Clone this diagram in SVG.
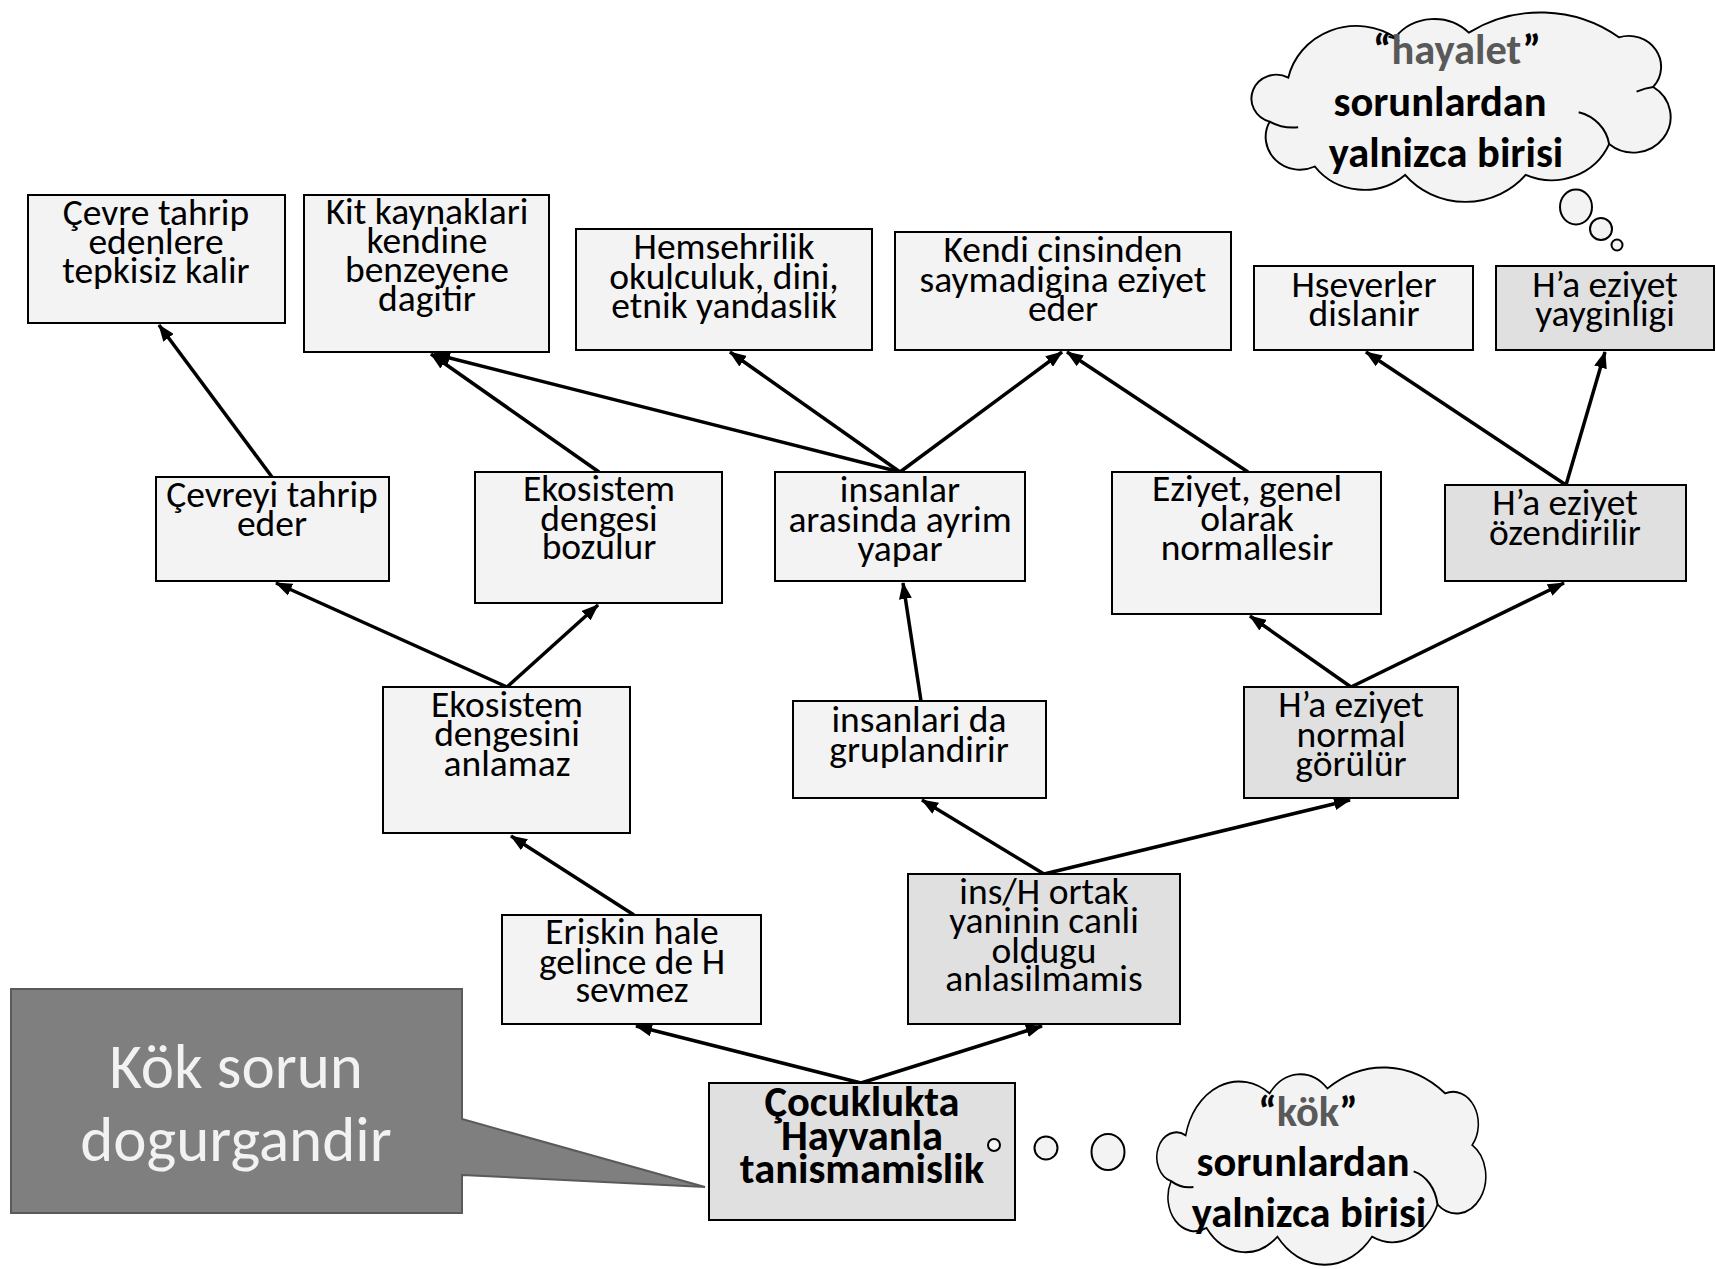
<svg xmlns="http://www.w3.org/2000/svg" width="1716" height="1269" viewBox="0 0 1716 1269">
<defs>
<marker id="ah" markerUnits="userSpaceOnUse" markerWidth="17" markerHeight="13" refX="16" refY="6.5" orient="auto"><path d="M0,0 L17,6.5 L0,13 Z" fill="#000"/></marker>
<path id="cloudShape" d="M1272,122 A25.5,25.5 0 1 1 1291,75 A71,71 0 0 1 1400,32 A50,50 0 0 1 1475,27 A134,134 0 0 1 1628,32 A33,33 0 0 1 1663,85 A38,38 0 1 1 1618,146 A64,64 0 0 1 1533,179 A80,80 0 0 1 1410,179 A63,63 0 0 1 1318,170 A35,35 0 0 1 1272,122 Z"/>
<style>
.box{fill:#f3f3f3;stroke:#000;stroke-width:2}
.dark{fill:#e0e0e0;stroke:#000;stroke-width:2}
.t{font-family:Carlito,Lato,'Liberation Sans',sans-serif;font-size:37.5px;text-anchor:middle;fill:#000}
.tb{font-family:Carlito,Lato,'Liberation Sans',sans-serif;font-size:42.5px;font-weight:bold;text-anchor:middle;fill:#000}
.ct{font-family:Carlito,Lato,'Liberation Sans',sans-serif;font-size:42.5px;font-weight:bold;text-anchor:middle;fill:#000}
.gray{fill:#595959}
.edge{stroke:#000;stroke-width:3.5;fill:none;marker-end:url(#ah)}
.cloud{fill:#f3f3f3;stroke:#000;stroke-width:2;vector-effect:non-scaling-stroke}
.inner{fill:none;stroke:#000;stroke-width:2;vector-effect:non-scaling-stroke}
.bub{fill:#f3f3f3;stroke:#000;stroke-width:2}
</style>
</defs>
<rect width="1716" height="1269" fill="#fff"/>

<g id="connectors">
<line class="edge" x1="272" y1="477" x2="159" y2="325"/>
<line class="edge" x1="599" y1="472" x2="431" y2="354"/>
<line class="edge" x1="900" y1="472" x2="434" y2="354"/>
<line class="edge" x1="900" y1="472" x2="730" y2="352"/>
<line class="edge" x1="900" y1="472" x2="1062" y2="352"/>
<line class="edge" x1="1248" y1="472" x2="1067" y2="352"/>
<line class="edge" x1="1566" y1="485" x2="1366" y2="352"/>
<line class="edge" x1="1566" y1="485" x2="1605" y2="352"/>
<line class="edge" x1="507" y1="687" x2="276" y2="583"/>
<line class="edge" x1="507" y1="687" x2="598" y2="605"/>
<line class="edge" x1="921" y1="701" x2="903" y2="583"/>
<line class="edge" x1="1351" y1="687" x2="1250" y2="616"/>
<line class="edge" x1="1351" y1="687" x2="1564" y2="583"/>
<line class="edge" x1="634" y1="915" x2="511" y2="836"/>
<line class="edge" x1="1044" y1="874" x2="922" y2="800"/>
<line class="edge" x1="1044" y1="874" x2="1350" y2="800"/>
<line class="edge" x1="861" y1="1083" x2="636" y2="1026"/>
<line class="edge" x1="861" y1="1083" x2="1042" y2="1026"/>
</g>

<g id="n1"><rect class="box" x="28" y="195" width="257" height="128"/>
<text class="t"><tspan x="156" y="225">Çevre tahrip</tspan><tspan x="156" y="254">edenlere</tspan><tspan x="156" y="283">tepkisiz kalir</tspan></text></g>
<g id="n2"><rect class="box" x="304" y="195" width="245" height="157"/>
<text class="t"><tspan x="427" y="224">Kit kaynaklari</tspan><tspan x="427" y="253">kendine</tspan><tspan x="427" y="282">benzeyene</tspan><tspan x="427" y="311">dagitir</tspan></text></g>
<g id="n3"><rect class="box" x="576" y="229" width="296" height="121"/>
<text class="t"><tspan x="724" y="259">Hemsehrilik</tspan><tspan x="724" y="289">okulculuk, dini,</tspan><tspan x="724" y="318">etnik yandaslik</tspan></text></g>
<g id="n4"><rect class="box" x="895" y="232" width="336" height="118"/>
<text class="t"><tspan x="1063" y="262">Kendi cinsinden</tspan><tspan x="1063" y="292">saymadigina eziyet</tspan><tspan x="1063" y="321">eder</tspan></text></g>
<g id="n5"><rect class="box" x="1254" y="266" width="219" height="84"/>
<text class="t"><tspan x="1364" y="297">Hseverler</tspan><tspan x="1364" y="326">dislanir</tspan></text></g>
<g id="n6"><rect class="dark" x="1496" y="266" width="218" height="84"/>
<text class="t"><tspan x="1605" y="297">H’a eziyet</tspan><tspan x="1605" y="326">yayginligi</tspan></text></g>
<g id="n7"><rect class="box" x="156" y="477" width="233" height="104"/>
<text class="t"><tspan x="272" y="507">Çevreyi tahrip</tspan><tspan x="272" y="536">eder</tspan></text></g>
<g id="n8"><rect class="box" x="475" y="472" width="247" height="131"/>
<text class="t"><tspan x="599" y="501">Ekosistem</tspan><tspan x="599" y="531">dengesi</tspan><tspan x="599" y="559">bozulur</tspan></text></g>
<g id="n9"><rect class="box" x="775" y="472" width="250" height="109"/>
<text class="t"><tspan x="900" y="502">insanlar</tspan><tspan x="900" y="532">arasinda ayrim</tspan><tspan x="900" y="561">yapar</tspan></text></g>
<g id="n10"><rect class="box" x="1112" y="472" width="269" height="142"/>
<text class="t"><tspan x="1247" y="501">Eziyet, genel</tspan><tspan x="1247" y="531">olarak</tspan><tspan x="1247" y="560">normallesir</tspan></text></g>
<g id="n11"><rect class="dark" x="1445" y="485" width="241" height="96"/>
<text class="t"><tspan x="1565" y="515">H’a eziyet</tspan><tspan x="1565" y="545">özendirilir</tspan></text></g>
<g id="n12"><rect class="box" x="383" y="687" width="247" height="146"/>
<text class="t"><tspan x="507" y="717">Ekosistem</tspan><tspan x="507" y="746">dengesini</tspan><tspan x="507" y="776">anlamaz</tspan></text></g>
<g id="n13"><rect class="box" x="793" y="701" width="253" height="97"/>
<text class="t"><tspan x="919" y="732">insanlari da</tspan><tspan x="919" y="762">gruplandirir</tspan></text></g>
<g id="n14"><rect class="dark" x="1244" y="687" width="214" height="111"/>
<text class="t"><tspan x="1351" y="717">H’a eziyet</tspan><tspan x="1351" y="747">normal</tspan><tspan x="1351" y="776">görülür</tspan></text></g>
<g id="n15"><rect class="box" x="502" y="915" width="259" height="109"/>
<text class="t"><tspan x="632" y="944">Eriskin hale</tspan><tspan x="632" y="974">gelince de H</tspan><tspan x="632" y="1002">sevmez</tspan></text></g>
<g id="n16"><rect class="dark" x="908" y="874" width="272" height="150"/>
<text class="t"><tspan x="1044" y="904">ins/H ortak</tspan><tspan x="1044" y="933">yaninin canli</tspan><tspan x="1044" y="963">oldugu</tspan><tspan x="1044" y="991">anlasilmamis</tspan></text></g>
<g id="n17"><rect class="dark" x="709" y="1083" width="306" height="137"/>
<text class="tb"><tspan x="862" y="1116">Çocuklukta</tspan><tspan x="862" y="1150">Hayvanla</tspan><tspan x="862" y="1183">tanismamislik</tspan></text></g>

<g id="callout">
<path d="M11,989 H462 V1119 L705,1187 L462,1175 V1213 H11 Z" fill="#7f7f7f" stroke="#5a5a5a" stroke-width="2"/>
<text style="font-family:Carlito,Lato,'Liberation Sans',sans-serif;font-size:63px;text-anchor:middle;fill:#f2f2f2"><tspan x="236" y="1088">Kök sorun</tspan><tspan x="236" y="1161">dogurgandir</tspan></text>
</g>

<g id="cloud-top">
<g transform="translate(1253,13) scale(0.981,0.936) translate(-1255,-6)">
<use href="#cloudShape" class="cloud"/>
<path class="inner" d="M1272,122 Q1286,130 1301,128"/>
<path class="inner" d="M1587,112 A42,42 0 0 1 1618,146"/>
<path class="inner" d="M1646,90 Q1655,86 1663,85"/>
<path class="inner" d="M1393,31 Q1399,32 1404,36"/>
</g>
<ellipse class="bub" cx="1576" cy="207" rx="16" ry="17.5"/>
<ellipse class="bub" cx="1601" cy="229" rx="11" ry="11"/>
<ellipse class="bub" cx="1617" cy="245" rx="5.5" ry="5.5"/>
<text class="ct"><tspan x="1457" y="64">“<tspan class="gray">hayalet</tspan>”</tspan><tspan x="1440" y="116">sorunlardan</tspan><tspan x="1446" y="167">yalnizca birisi</tspan></text>
</g>

<g id="cloud-bottom">
<g transform="translate(1158,1068) scale(0.77,0.975) translate(-1255,-6)">
<use href="#cloudShape" class="cloud"/>
<path class="inner" d="M1272,122 Q1286,130 1301,128"/>
<path class="inner" d="M1587,112 A42,42 0 0 1 1618,146"/>
</g>
<ellipse class="bub" cx="994" cy="1145" rx="6" ry="6"/>
<ellipse class="bub" cx="1046" cy="1148" rx="11.5" ry="11.5"/>
<ellipse class="bub" cx="1108" cy="1152" rx="16.5" ry="18"/>
<text class="ct"><tspan x="1308" y="1126">“<tspan class="gray">kök</tspan>”</tspan><tspan x="1303" y="1176">sorunlardan</tspan><tspan x="1309" y="1227">yalnizca birisi</tspan></text>
</g>
</svg>
